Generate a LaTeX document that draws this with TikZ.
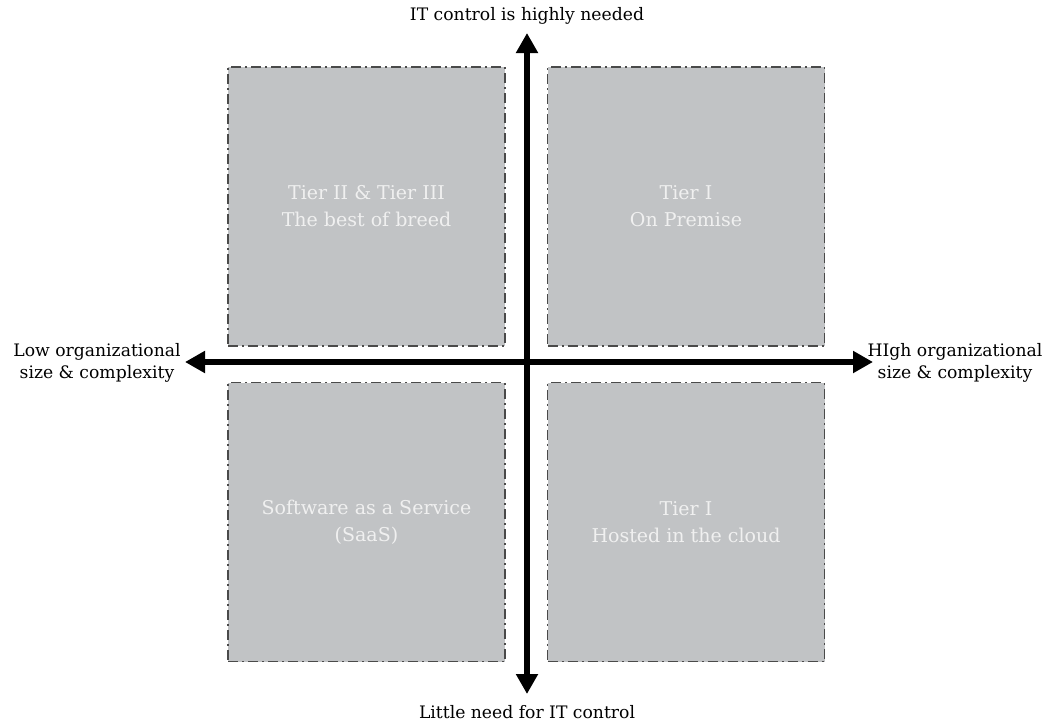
\documentclass[tikz,border=0pt]{standalone}
\usepackage{fontspec}
\setmainfont{DejaVu Serif}
\usetikzlibrary{arrows.meta}
\definecolor{boxfill}{HTML}{C1C3C5}
\definecolor{boxline}{HTML}{4A4A4A}
\definecolor{boxtext}{HTML}{F0F0F0}
\begin{document}
\begin{tikzpicture}[x=1pt,y=-1pt,
  quad/.style={draw=boxline, fill=boxfill, line width=1.3pt, dash pattern=on 10pt off 4pt on 2pt off 4pt, minimum width=277pt, minimum height=279pt, inner sep=0pt, text=boxtext, font=\fontsize{19}{27}\selectfont, align=center},
  axis/.style={line width=6.5pt, -{Triangle[length=20pt,width=21pt]}},
  lbl/.style={font=\fontsize{17.2}{22}\selectfont, align=center, inner sep=0pt}]
\useasboundingbox (0,0) rectangle (1046,726);
\node[quad] (tl) at (366.5,206.5) {Tier II \& Tier III\\The best of breed};
\node[quad] (tr) at (686,206.5) {Tier I\\On Premise};
\node[quad] (bl) at (366.5,522) {Software as a Service\\(SaaS)};
\node[quad] (br) at (686,522) {Tier I\\Hosted in the cloud};
\coordinate (c) at (527,362);
\coordinate (top) at (527,33);
\coordinate (bot) at (527,694);
\coordinate (left) at (185,362);
\coordinate (right) at (873,362);
\draw[axis] (c) -- (top);
\draw[axis] (c) -- (bot);
\draw[axis] (c) -- (left);
\draw[axis] (c) -- (right);
\node[lbl] (ltop) at (527,16) {IT control is highly needed};
\node[lbl] (lbot) at (527,712) {Little need for IT control};
\node[lbl] (lleft) at (97,363) {Low organizational\\size \& complexity};
\node[lbl] (lright) at (955,363) {HIgh organizational\\size \& complexity};
\end{tikzpicture}
\end{document}
